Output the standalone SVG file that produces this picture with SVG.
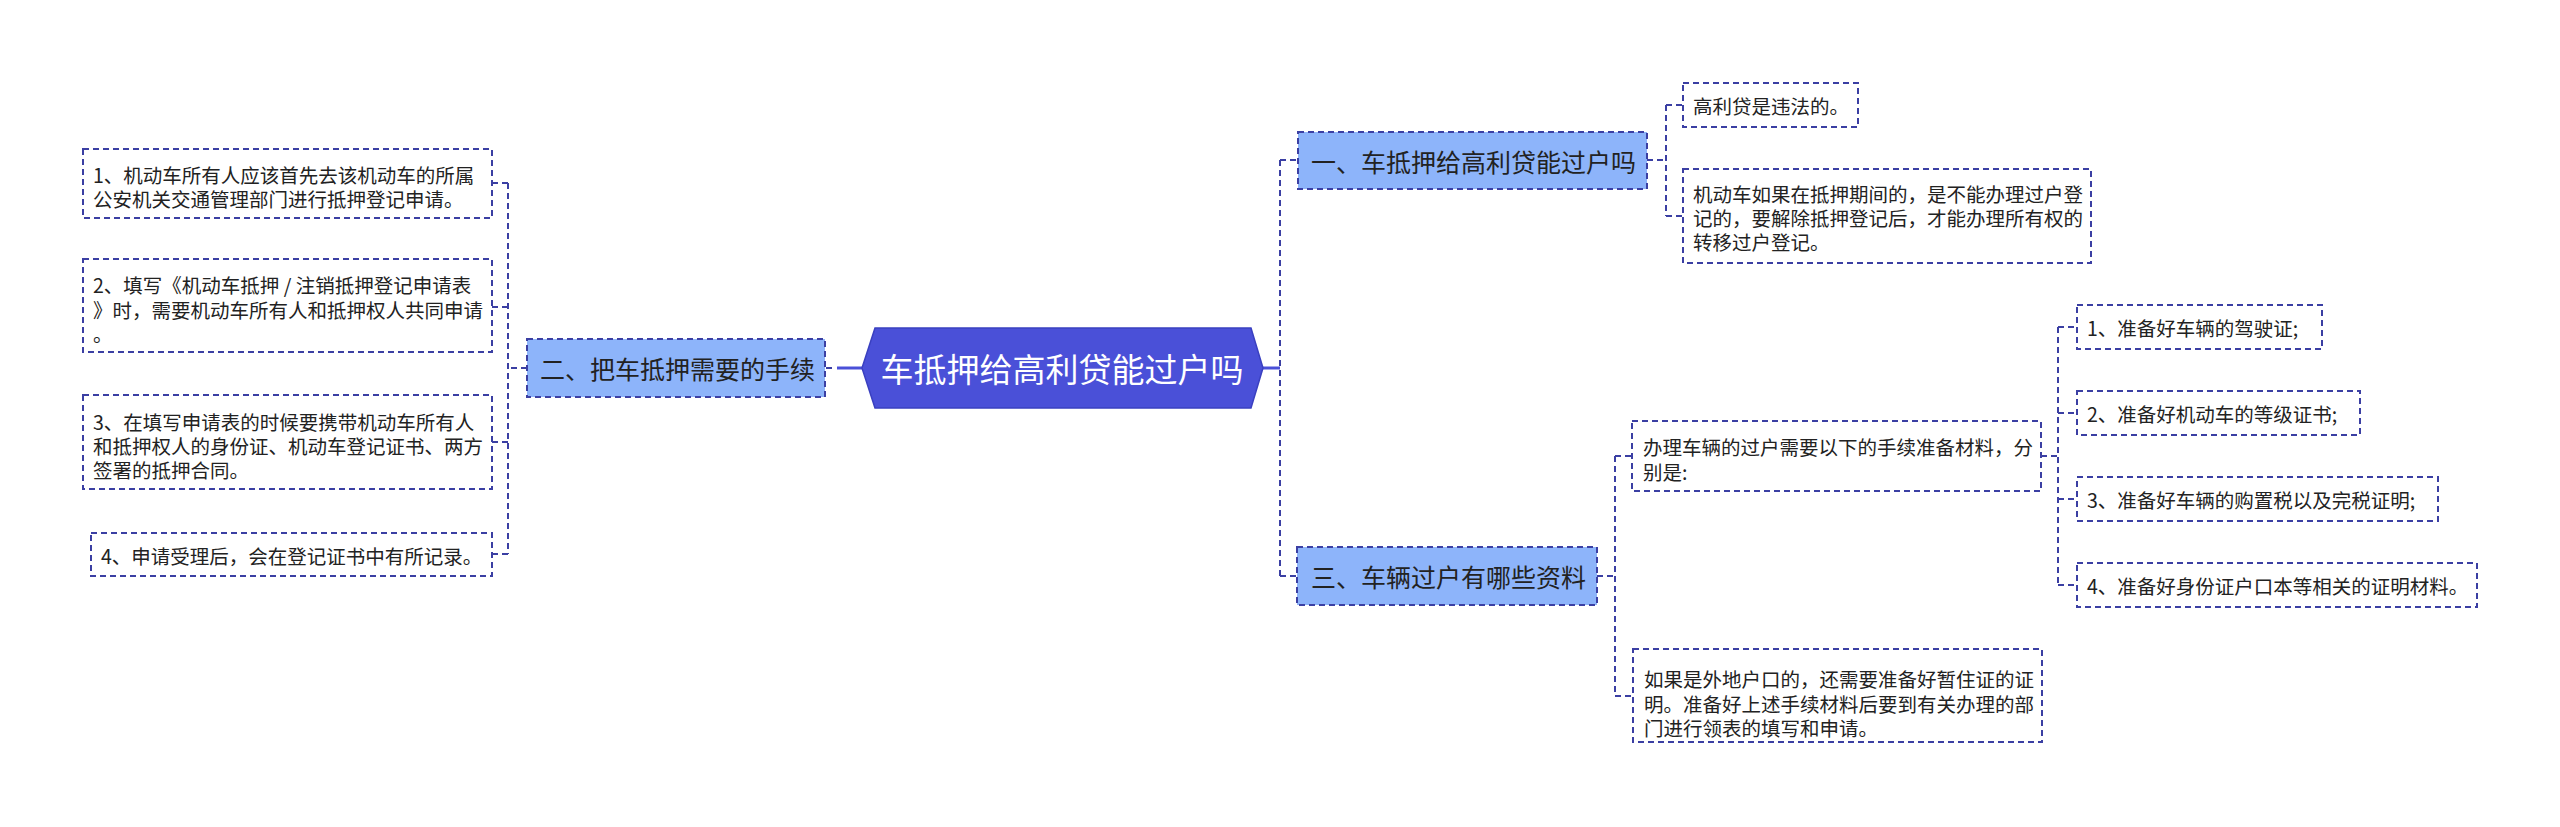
<svg xmlns="http://www.w3.org/2000/svg" width="2560" height="827" viewBox="0 0 2560 827">
<style>
.leaf{fill:#ffffff;stroke:#3b3fa3;stroke-width:2;stroke-dasharray:6 4;}
.sub{fill:#8db4fa;stroke:#3b3fa3;stroke-width:2;stroke-dasharray:6 4;}
.root{fill:#4a50d8;stroke:#3a40c0;stroke-width:1.5;}
.dash{fill:none;stroke:#3b3fa3;stroke-width:2;stroke-dasharray:6 4;}
.solid{fill:none;stroke:#4a50d8;stroke-width:3;}
text{font-family:"Noto Sans CJK SC","Noto Sans",sans-serif;dominant-baseline:central;}
.t1{font-size:19.5px;fill:#222222;}
.t2{font-size:25px;fill:#222222;}
.t0{font-size:33px;fill:#ffffff;text-anchor:middle;}
</style>
<rect width="2560" height="827" fill="#ffffff"/>
<g id="connectors">
<path class="dash" d="M826,368 H836"/>
<path class="solid" d="M837,368 H862"/>
<path class="dash" d="M527,368 H508 M508,183 V554 M508,183 H492 M508,307 H492 M508,442 H492 M508,554 H492"/>
<path class="solid" d="M1263,368 H1280"/>
<path class="dash" d="M1280,160 V577 M1280,160 H1298 M1280,576 H1297"/>
<path class="dash" d="M1647,160 H1666 M1666,105 V216 M1666,105 H1683 M1666,216 H1683"/>
<path class="dash" d="M1597,576 H1615 M1615,456 V696 M1615,456 H1632 M1615,696 H1633"/>
<path class="dash" d="M2041,456 H2058 M2058,327 V585 M2058,327 H2077 M2058,413 H2077 M2058,499 H2077 M2058,585 H2077"/>
</g>
<g id="root">
<polygon class="root" points="862,368 875,328 1251,328 1263,368 1251,408 875,408"/>
<text class="t0" x="1062" y="368">车抵押给高利贷能过户吗</text>
</g>
<g id="node-2">
<rect class="sub" x="527" y="339" width="298" height="58"/>
<text class="t2" x="540" y="368">二、把车抵押需要的手续</text>
</g>
<g id="leaf-2-1">
<rect class="leaf" x="83" y="149" width="409" height="69"/>
<text class="t1" x="93" y="174">1、机动车所有人应该首先去该机动车的所属</text>
<text class="t1" x="93" y="198">公安机关交通管理部门进行抵押登记申请。</text>
</g>
<g id="leaf-2-2">
<rect class="leaf" x="83" y="259" width="409" height="93"/>
<text class="t1" x="93" y="284">2、填写《机动车抵押 / 注销抵押登记申请表</text>
<text class="t1" x="93" y="309">》时，需要机动车所有人和抵押权人共同申请</text>
<text class="t1" x="93" y="333">。</text>
</g>
<g id="leaf-2-3">
<rect class="leaf" x="83" y="395" width="409" height="94"/>
<text class="t1" x="93" y="421">3、在填写申请表的时候要携带机动车所有人</text>
<text class="t1" x="93" y="445">和抵押权人的身份证、机动车登记证书、两方</text>
<text class="t1" x="93" y="469">签署的抵押合同。</text>
</g>
<g id="leaf-2-4">
<rect class="leaf" x="91" y="533" width="401" height="43"/>
<text class="t1" x="101" y="555">4、申请受理后，会在登记证书中有所记录。</text>
</g>
<g id="node-1">
<rect class="sub" x="1298" y="132" width="349" height="57"/>
<text class="t2" x="1311" y="160.5">一、车抵押给高利贷能过户吗</text>
</g>
<g id="leaf-1-1">
<rect class="leaf" x="1683" y="83" width="175" height="44"/>
<text class="t1" x="1693" y="105">高利贷是违法的。</text>
</g>
<g id="leaf-1-2">
<rect class="leaf" x="1683" y="169" width="408" height="94"/>
<text class="t1" x="1693" y="193">机动车如果在抵押期间的，是不能办理过户登</text>
<text class="t1" x="1693" y="217">记的，要解除抵押登记后，才能办理所有权的</text>
<text class="t1" x="1693" y="241">转移过户登记。</text>
</g>
<g id="node-3">
<rect class="sub" x="1297" y="547" width="300" height="58"/>
<text class="t2" x="1311" y="576">三、车辆过户有哪些资料</text>
</g>
<g id="leaf-3-1">
<rect class="leaf" x="1632" y="421" width="409" height="70"/>
<text class="t1" x="1643" y="446">办理车辆的过户需要以下的手续准备材料，分</text>
<text class="t1" x="1643" y="471">别是:</text>
</g>
<g id="leaf-3-2">
<rect class="leaf" x="1633" y="649" width="409" height="93"/>
<text class="t1" x="1644" y="678">如果是外地户口的，还需要准备好暂住证的证</text>
<text class="t1" x="1644" y="703">明。准备好上述手续材料后要到有关办理的部</text>
<text class="t1" x="1644" y="727">门进行领表的填写和申请。</text>
</g>
<g id="item-1">
<rect class="leaf" x="2077" y="305" width="245" height="44"/>
<text class="t1" x="2087" y="327">1、准备好车辆的驾驶证;</text>
</g>
<g id="item-2">
<rect class="leaf" x="2077" y="391" width="283" height="44"/>
<text class="t1" x="2087" y="413">2、准备好机动车的等级证书;</text>
</g>
<g id="item-3">
<rect class="leaf" x="2077" y="477" width="361" height="44"/>
<text class="t1" x="2087" y="499">3、准备好车辆的购置税以及完税证明;</text>
</g>
<g id="item-4">
<rect class="leaf" x="2077" y="563" width="400" height="44"/>
<text class="t1" x="2087" y="585">4、准备好身份证户口本等相关的证明材料。</text>
</g>
</svg>
